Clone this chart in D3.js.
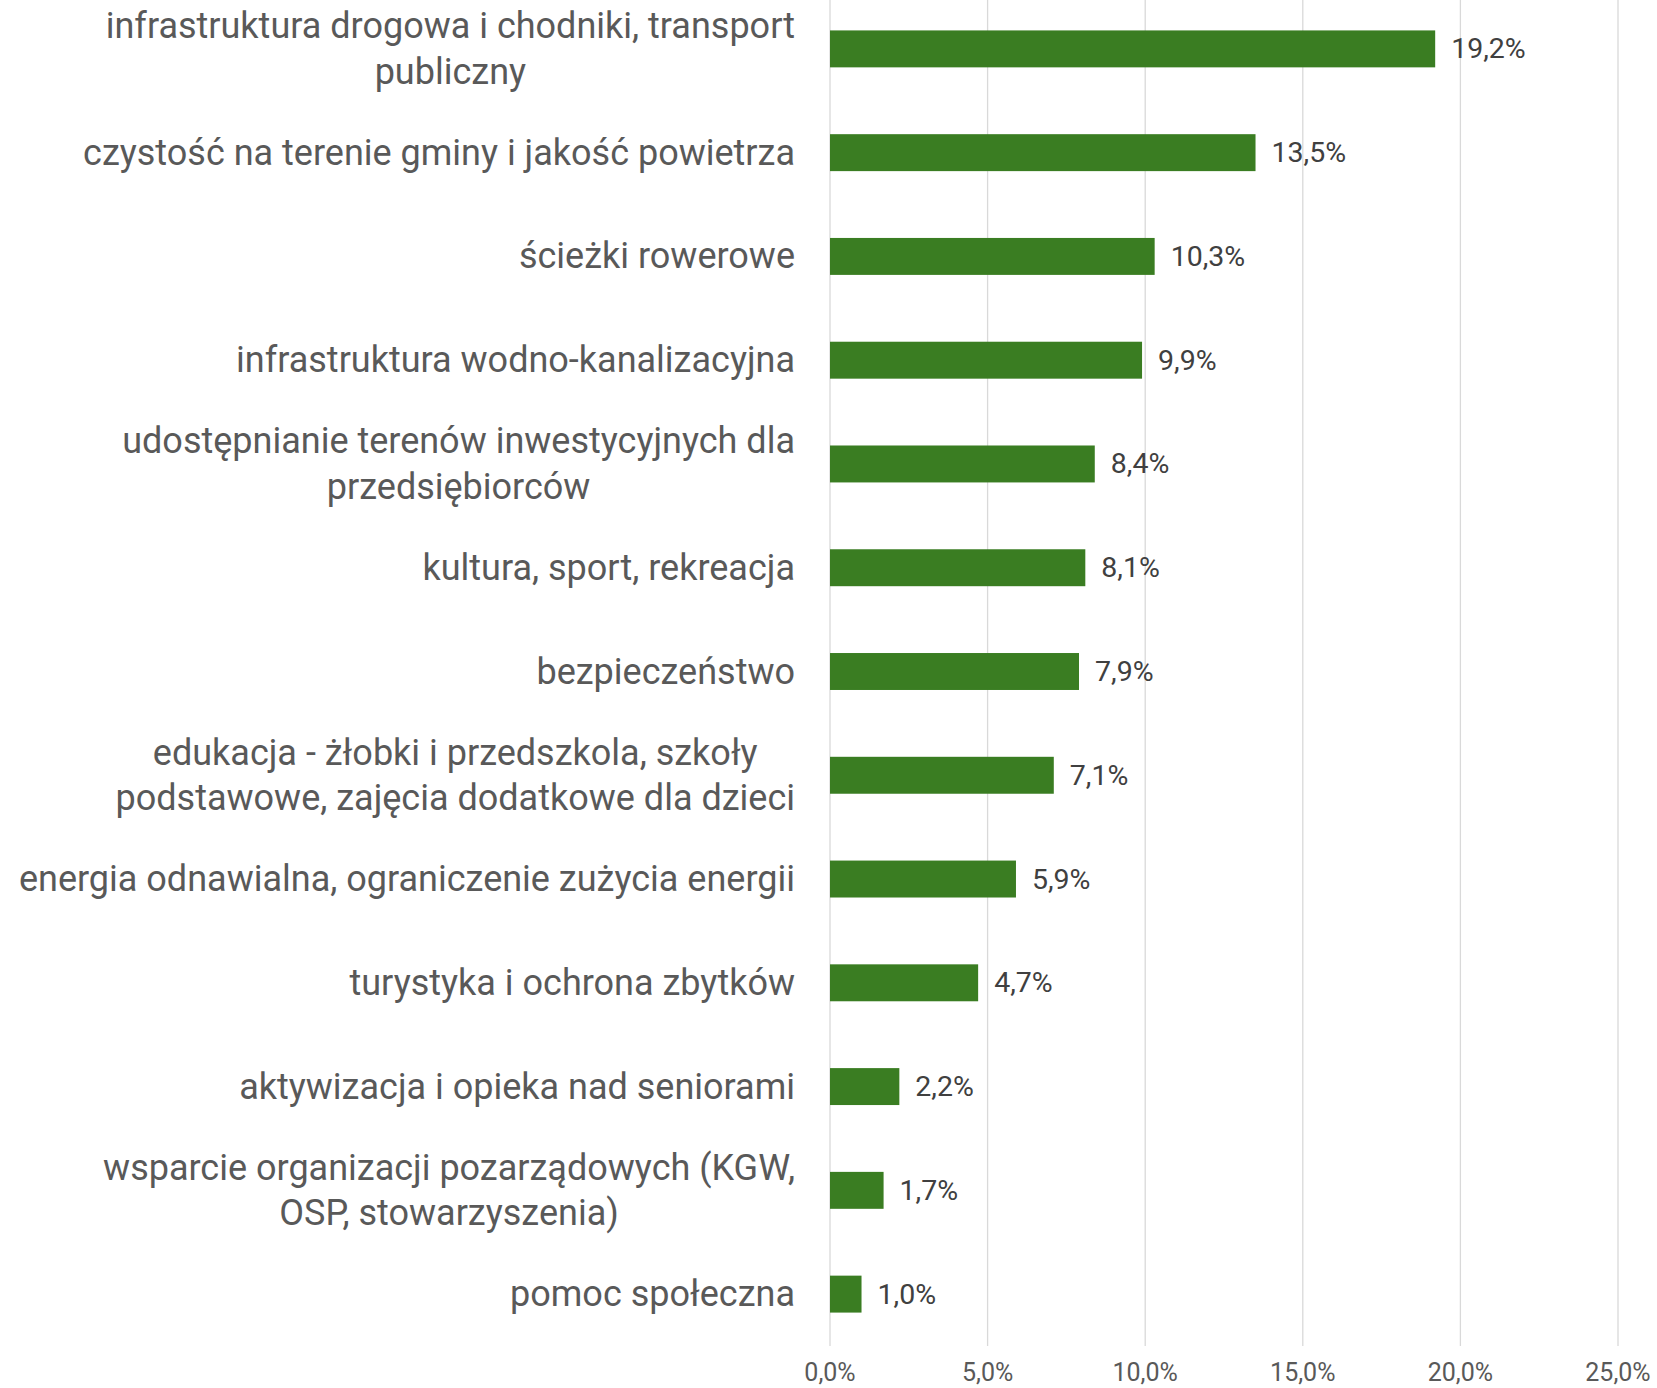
<!DOCTYPE html>
<html>
<head>
<meta charset="utf-8">
<script src="https://cdn.jsdelivr.net/npm/d3@7"></script>
<style>
  body { margin: 0; background: #fff; }
  svg { display: block; }
</style>
</head>
<body>
<div id="chart"></div>
<script>
// categories, each line of a wrapped label separated by \n
const categories = [
  "infrastruktura drogowa i chodniki, transport\npubliczny",
  "czystość na terenie gminy i jakość powietrza",
  "ścieżki rowerowe",
  "infrastruktura wodno-kanalizacyjna",
  "udostępnianie terenów inwestycyjnych dla\nprzedsiębiorców",
  "kultura, sport, rekreacja",
  "bezpieczeństwo",
  "edukacja - żłobki i przedszkola, szkoły\npodstawowe, zajęcia dodatkowe dla dzieci",
  "energia odnawialna, ograniczenie zużycia energii",
  "turystyka i ochrona zbytków",
  "aktywizacja i opieka nad seniorami",
  "wsparcie organizacji pozarządowych (KGW,\nOSP, stowarzyszenia)",
  "pomoc społeczna"
]
const values = [19.2, 13.5, 10.3, 9.9, 8.4, 8.1, 7.9, 7.1, 5.9, 4.7, 2.2, 1.7, 1.0]
const ticks = [0, 5, 10, 15, 20, 25]

const width = 1657, height = 1388
const margin = { top: -3, right: 39, bottom: 42, left: 830 }
const labelRight = 795
const font = "Roboto, 'Liberation Sans', sans-serif"

const fmt = v => v.toFixed(1).replace(".", ",") + "%"

const svg = d3.select("#chart")
  .append("svg")
    .attr("width", width)
    .attr("height", height)
    .style("font-family", font)

const x = d3.scaleLinear()
  .domain([0, 25])
  .range([margin.left, width - margin.right])

const y = d3.scaleBand()
  .domain(d3.range(categories.length))
  .range([margin.top, height - margin.bottom])
  .paddingInner(0.644)
  .paddingOuter(0.322)

// gridlines
svg.append("g")
  .selectAll("line")
  .data(ticks)
  .enter()
  .append("line")
    .attr("x1", d => x(d))
    .attr("x2", d => x(d))
    .attr("y1", 0)
    .attr("y2", height - margin.bottom)
    .style("stroke", "#d9d9d9")
    .style("stroke-width", 1.3)

// tick labels
svg.append("g")
  .selectAll("text")
  .data(ticks)
  .enter()
  .append("text")
    .attr("x", d => x(d))
    .attr("y", 1372)
    .attr("text-anchor", "middle")
    .attr("dominant-baseline", "central")
    .style("font-size", "25px")
    .style("fill", "#595959")
    .text(d => fmt(d))

// bars
svg.append("g")
  .selectAll("rect")
  .data(values)
  .enter()
  .append("rect")
    .attr("x", x(0))
    .attr("y", (d, i) => y(i))
    .attr("width", d => x(d) - x(0))
    .attr("height", y.bandwidth())
    .style("fill", "#3a7d22")

// value labels
svg.append("g")
  .selectAll("text")
  .data(values)
  .enter()
  .append("text")
    .attr("x", d => x(d) + 16)
    .attr("y", (d, i) => y(i) + y.bandwidth() / 2)
    .attr("dominant-baseline", "central")
    .style("font-size", "28.5px")
    .style("fill", "#404040")
    .text(d => fmt(d))

// category labels, lines centred inside a right-aligned block
const lineH = 45.4
const labels = svg.append("g")
  .selectAll("g")
  .data(categories)
  .enter()
  .append("g")
    .style("font-size", "36px")
    .style("fill", "#595959")

labels.each(function(d, i) {
  const g = d3.select(this)
  const lines = d.split("\n")
  const cy = y(i) + y.bandwidth() / 2
  const texts = g.selectAll("text")
    .data(lines)
    .enter()
    .append("text")
      .attr("y", (l, j) => cy + (j - (lines.length - 1) / 2) * lineH)
      .attr("dominant-baseline", "central")
      .attr("text-anchor", "middle")
      .text(l => l)
  const w = d3.max(texts.nodes(), n => n.getComputedTextLength())
  texts.attr("x", labelRight - w / 2)
})
</script>
</body>
</html>
